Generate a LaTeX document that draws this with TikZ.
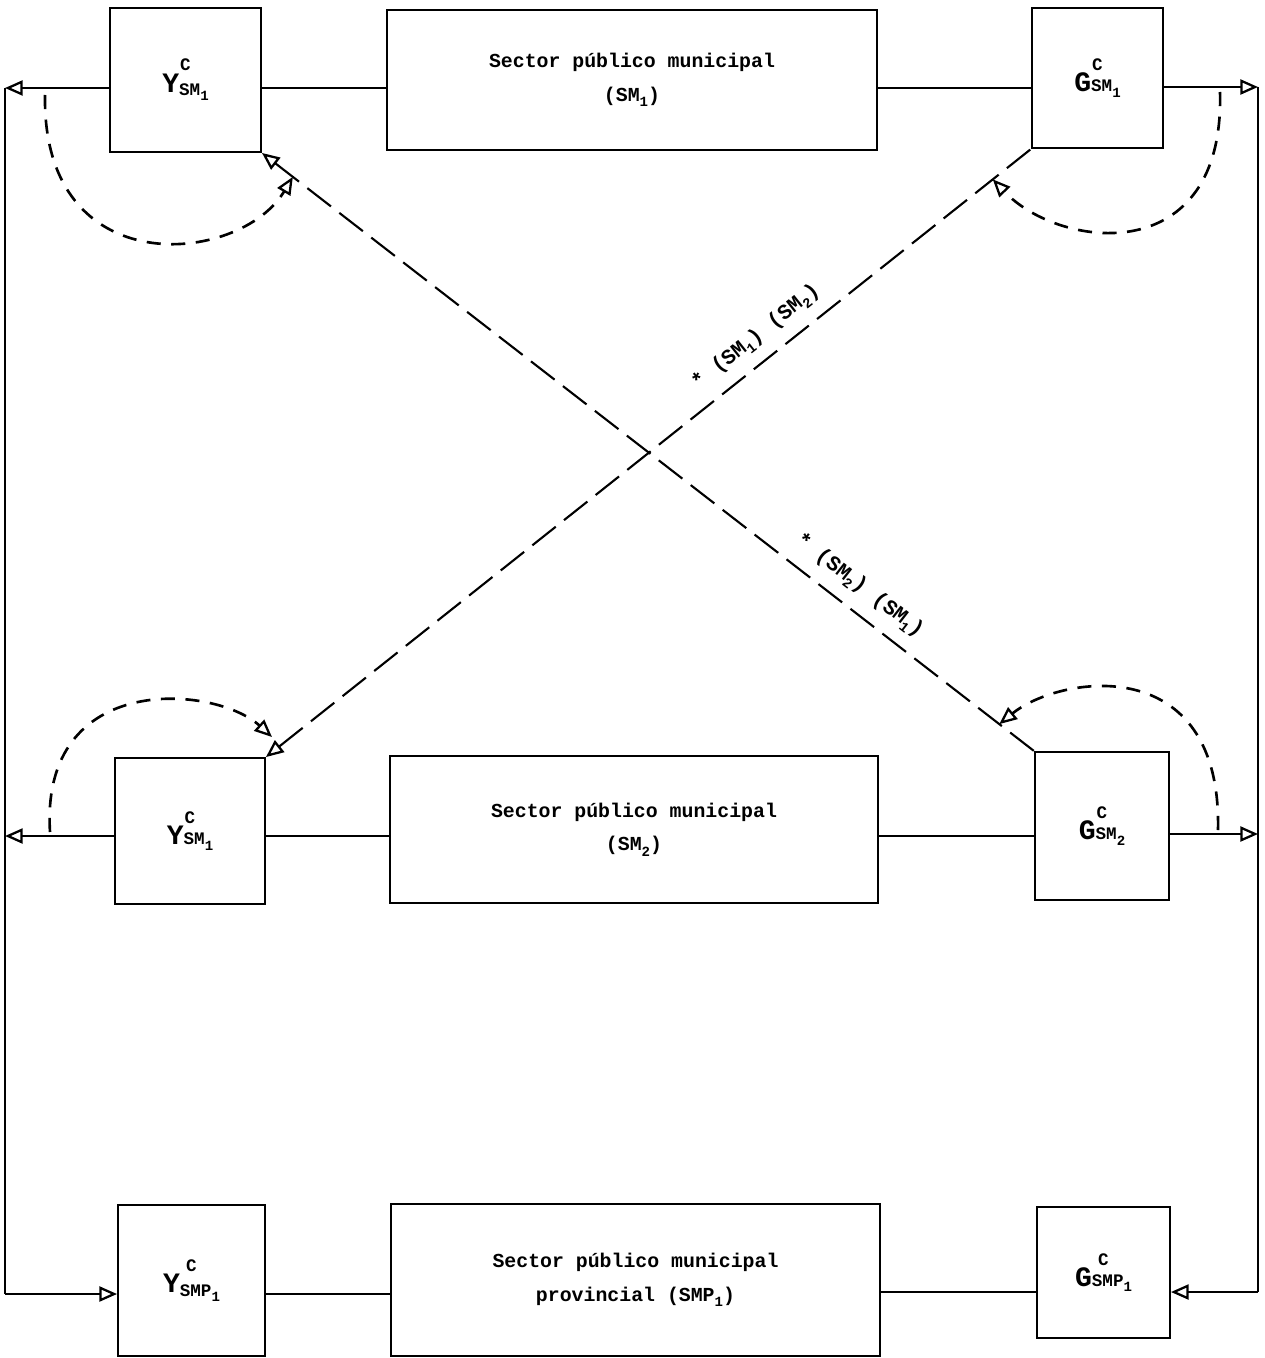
\documentclass[tikz,border=0pt]{standalone}
\usepackage{fontspec}
\setmonofont{Liberation Mono}
\usetikzlibrary{arrows.meta,calc}
\newcommand{\lsub}[1]{\raisebox{-3pt}{\fontsize{8}{8}\selectfont #1}}
\newcommand{\smtxt}[1]{{\fontsize{10}{10}\selectfont #1}}
\newcommand{\biglet}[1]{{\fontsize{16}{16}\selectfont #1}}
\begin{document}
\begin{tikzpicture}[x=0.02cm,y=-0.02cm,
  box/.style={draw, line width=1.1pt, inner sep=0pt, align=center,
    font=\ttfamily\bfseries\fontsize{11.3}{19}\selectfont},
  thinln/.style={line width=0.6pt},
  side/.style={line width=1.3pt},
  tip/.style={-{Triangle[open,length=10pt,width=8.5pt,line width=1.3pt]}},
  diag/.style={line width=1.2pt, dash pattern=on 17pt off 6pt},
  arcln/.style={line width=1.5pt, dash pattern=on 8pt off 6pt},
  lab/.style={font=\ttfamily\bfseries\fontsize{12}{13}\selectfont, inner sep=2pt}
]
\fill[white] (0,0) rectangle (1264,1358);
\useasboundingbox (0,0) rectangle (1264,1358);

% boxes
\node[box, minimum width=151*0.02cm, minimum height=144*0.02cm] (ytop) at (185.5,80)
  {\smtxt{C}\\[-7pt]\biglet{Y}\raisebox{-2pt}{\smtxt{SM}\lsub{1}}};
\node[box, minimum width=490*0.02cm, minimum height=140*0.02cm] (mtop) at (632,80)
  {Sector público municipal\\(SM\lsub{1})};
\node[box, minimum width=131*0.02cm, minimum height=140*0.02cm] (gtop) at (1097.5,78)
  {\smtxt{C}\\[-7pt]\biglet{G}\smtxt{SM}\lsub{1}};

\node[box, minimum width=150*0.02cm, minimum height=146*0.02cm] (ymid) at (190,831)
  {\smtxt{C}\\[-7pt]\biglet{Y}\smtxt{SM}\lsub{1}};
\node[box, minimum width=488*0.02cm, minimum height=147*0.02cm] (mmid) at (634,829.5)
  {Sector público municipal\\(SM\lsub{2})};
\node[box, minimum width=134*0.02cm, minimum height=148*0.02cm] (gmid) at (1102,826)
  {\smtxt{C}\\[-7pt]\biglet{G}\smtxt{SM}\lsub{2}};

\node[box, minimum width=147*0.02cm, minimum height=151*0.02cm] (ybot) at (191.5,1280.5)
  {\smtxt{C}\\[-7pt]\biglet{Y}\raisebox{-2pt}{\smtxt{SMP}\lsub{1}}};
\node[box, minimum width=489*0.02cm, minimum height=152*0.02cm] (mbot) at (635.5,1280)
  {Sector público municipal\\provincial (SMP\lsub{1})};
\node[box, minimum width=133*0.02cm, minimum height=131*0.02cm] (gbot) at (1103.5,1272.5)
  {\smtxt{C}\\[-7pt]\biglet{G}\smtxt{SMP}\lsub{1}};

% frame coordinates
\coordinate (L1) at (5,88);
\coordinate (L2) at (5,836);
\coordinate (L3) at (5,1294);
\coordinate (R1) at (1258,87);
\coordinate (R2) at (1258,834);
\coordinate (R3) at (1258,1292);

% solid connectors
\draw[side] (L1) -- (L3);
\draw[side] (R1) -- (R3);
\draw[thinln,tip] (ytop.west |- L1) -- (L1);
\draw[thinln] (ytop.east |- L1) -- (mtop.west |- L1);
\draw[thinln] (mtop.east |- L1) -- (gtop.west |- L1);
\draw[thinln,tip] (gtop.east |- R1) -- (R1);

\draw[thinln,tip] (ymid.west |- L2) -- (L2);
\draw[thinln] (ymid.east |- L2) -- (mmid.west |- L2);
\draw[thinln] (mmid.east |- L2) -- (gmid.west |- L2);
\draw[thinln,tip] (gmid.east |- R2) -- (R2);

\draw[thinln,tip] (L3) -- (ybot.west |- L3);
\draw[thinln] (ybot.east |- L3) -- (mbot.west |- L3);
\draw[thinln] (mbot.east |- R3) -- (gbot.west |- R3);
\draw[thinln,tip] (R3) -- (gbot.east |- R3);

% diagonals
\draw[diag, {Triangle[open,length=10pt,width=8.5pt,line width=1.3pt]}-]
  (ytop.south east) -- node[lab, sloped, above=5pt, pos=0.755]
  {*~(SM\lsub{2})~(SM\lsub{1})} (gmid.north west);
\draw[diag, {Triangle[open,length=10pt,width=8.5pt,line width=1.3pt]}-]
  (ymid.north east) -- node[lab, sloped, above=5pt, pos=0.66]
  {*~(SM\lsub{1})~(SM\lsub{2})} (gtop.south west);

% dashed arcs
\coordinate (a1) at (45,95);
\coordinate (a2) at (1220,92);
\coordinate (a3) at (50,832);
\coordinate (a4) at (1218,830);
\coordinate (e3) at (272,737);
\draw[arcln,tip] (a1) .. controls (42,285) and (240,265) ..
  ($(ytop.south east)!0.04!(gmid.north west)$);
\draw[arcln,tip] (a2) .. controls (1225,270) and (1060,250) ..
  ($(ymid.north east)!0.95!(gtop.south west)$);
\draw[arcln,tip] (a3) .. controls (40,670) and (215,685) .. (e3);
\draw[arcln,tip] (a4) .. controls (1222,650) and (1060,675) ..
  ($(ytop.south east)!0.955!(gmid.north west)$);
\end{tikzpicture}
\end{document}
